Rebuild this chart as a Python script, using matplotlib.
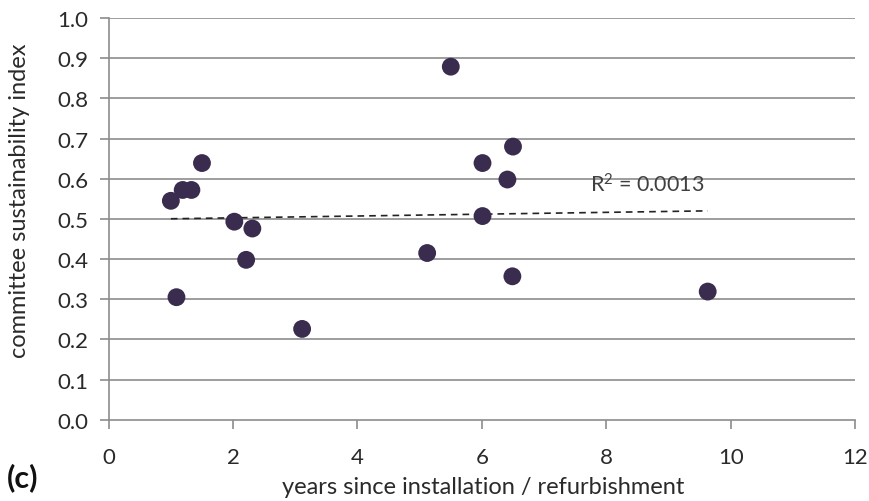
import numpy as np
import matplotlib
matplotlib.use("Agg")
import matplotlib.pyplot as plt

plt.rcParams['font.family'] = ['Lato', 'DejaVu Sans']
plt.rcParams['mathtext.fontset'] = 'custom'
plt.rcParams['mathtext.rm'] = 'Lato'
plt.rcParams['mathtext.it'] = 'Lato'
plt.rcParams['mathtext.default'] = 'rm'

years = [1.0, 1.19, 1.33, 1.5, 1.09, 2.02, 2.31, 2.21, 3.11,
         5.5, 6.5, 6.01, 6.41, 6.01, 5.12, 6.49, 9.63]
index = [0.545, 0.572, 0.572, 0.639, 0.305, 0.493, 0.476, 0.398, 0.226,
         0.879, 0.680, 0.639, 0.598, 0.507, 0.415, 0.357, 0.319]
r2_label = "R$^2$ = 0.0013"
xticks = [0, 2, 4, 6, 8, 10, 12]
yticks = [0.0, 0.1, 0.2, 0.3, 0.4, 0.5, 0.6, 0.7, 0.8, 0.9, 1.0]

fig = plt.figure(figsize=(8.7, 5.02), dpi=100)
ax = fig.add_axes([0.1249, 0.162, 0.858, 0.8])

grid_c = '#8c8c8c'
for y in yticks[1:]:
    ax.axhline(y, color=grid_c, lw=1.2, zorder=1)

ax.scatter(years, index, s=165, color='#3a2c4e', zorder=3, edgecolors='none')

# linear trendline
x = np.array(years); yv = np.array(index)
slope, intercept = np.polyfit(x, yv, 1)
xs = np.array([x.min(), x.max()])
ax.plot(xs, slope * xs + intercept, color='#222222', lw=1.2, ls=(0, (4, 3)), zorder=2)

ax.text(7.74, 0.588, r2_label, fontsize=15.5, color='#404040', va='center', ha='left', zorder=4)

ax.set_xlim(0, 12)
ax.set_ylim(0, 1.0)
ax.set_xticks(xticks)
ax.set_yticks(yticks)
ax.set_yticklabels([f"{v:.1f}" for v in yticks])
ax.tick_params(axis='both', colors=grid_c, labelcolor='#2a2a2a', labelsize=16, length=6.5, width=1.2, direction='out')
ax.tick_params(axis='x', pad=13)
ax.tick_params(axis='y', pad=8)
for s in ['top', 'right']:
    ax.spines[s].set_visible(False)
for s in ['left', 'bottom']:
    ax.spines[s].set_color(grid_c)
    ax.spines[s].set_linewidth(1.2)

fig.text(483.5 / 870, 1 - 494 / 502, "years since installation / refurbishment",
         fontsize=17, color='#2a2a2a', ha='center', va='baseline')
fig.text(20 / 870, 1 - 201 / 502, "committee sustainability index",
         fontsize=17, color='#2a2a2a', ha='center', va='center', rotation=90)

fig.text(7 / 870, 1 - 478 / 502, "(c)", fontsize=22, fontweight='bold', color='#111111', ha='left', va='center')

fig.savefig("out.png", dpi=100, facecolor='white')
